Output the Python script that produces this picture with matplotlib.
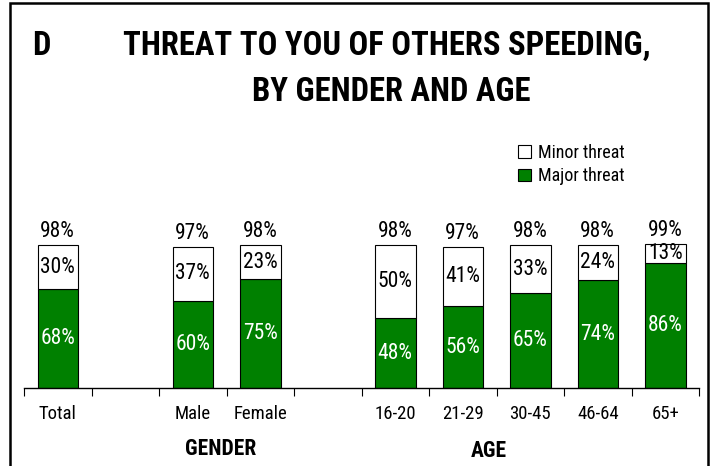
import matplotlib.pyplot as plt
import matplotlib.patches as mpatches

# data (blank slots separate the groups)
categories = ['Total', '', 'Male', 'Female', '', '16-20', '21-29', '30-45', '46-64', '65+']
major = [68, None, 60, 75, None, 48, 56, 65, 74, 86]
minor = [30, None, 37, 23, None, 50, 41, 33, 24, 13]
totals = [98, None, 97, 98, None, 98, 97, 98, 98, 99]
groups = ['GENDER', 'AGE']

green = '#008000'
plt.rcParams['font.family'] = ['Roboto Condensed', 'DejaVu Sans']

fig = plt.figure(figsize=(7.12, 4.66), dpi=100)
ax = fig.add_axes([24 / 712, 1 - 388 / 466, 675 / 712, 268 / 466])

x = [i for i, v in enumerate(major) if v is not None]
maj = [major[i] for i in x]
mino = [minor[i] for i in x]
tot = [totals[i] for i in x]

ax.bar(x, maj, width=0.6, color=green, edgecolor='black', linewidth=0.8, label='Major threat')
ax.bar(x, mino, width=0.6, bottom=maj, color='white', edgecolor='black', linewidth=0.8,
       label='Minor threat')

for xi, a, b, t in zip(x, maj, mino, tot):
    ax.text(xi, a / 2, f'{a}%', ha='center', va='center', color='white', fontsize=15.5)
    ax.text(xi, a + b / 2, f'{b}%', ha='center', va='center', color='black', fontsize=15.5)
    ax.annotate(f'{t}%', (xi, a + b), xytext=(0, 2), textcoords='offset points',
                ha='center', va='bottom', fontsize=15.5)

ax.set_xlim(-0.5, len(categories) - 0.5)
ax.set_ylim(0, 184)
ax.set_xticks(range(len(categories)))
ax.set_xticklabels(categories, fontsize=13.5)
ax.set_xticks([i - 0.5 for i in range(len(categories) + 1)], minor=True)
ax.tick_params(axis='x', which='major', length=0, pad=12)
ax.tick_params(axis='x', which='minor', length=6, width=0.8, direction='out')
ax.set_yticks([])
for s in ['top', 'right', 'left']:
    ax.spines[s].set_visible(False)
ax.spines['bottom'].set_linewidth(1.0)

# group labels under the axis
fig.text(221 / 712, 1 - 449 / 466, groups[0], ha='center', va='center',
         fontsize=15.5, fontweight='bold')
fig.text(489 / 712, 1 - 451 / 466, groups[1], ha='center', va='center',
         fontsize=15.5, fontweight='bold')

handles, labels = ax.get_legend_handles_labels()
ax.legend(handles[::-1], labels[::-1], loc='upper left', bbox_to_anchor=(518 / 712, 1 - 144 / 466),
          bbox_transform=fig.transFigure, frameon=False, fontsize=13,
          handlelength=0.7, handleheight=0.7, handletextpad=0.4, labelspacing=0.3,
          borderaxespad=0, borderpad=0)

# title
fig.text(32 / 712, 1 - 46 / 466, 'D', ha='left', va='center', fontsize=23.5, fontweight='bold')
fig.text(387 / 712, 1 - 46 / 466, 'THREAT TO YOU OF OTHERS SPEEDING,', ha='center', va='center',
         fontsize=23.5, fontweight='bold')
fig.text(391 / 712, 1 - 92 / 466, 'BY GENDER AND AGE', ha='center', va='center',
         fontsize=23.5, fontweight='bold')

# outer frame
fig.patches.append(mpatches.Rectangle((10 / 712, -0.1), 698 / 712, 1.1 - 3 / 466,
                                      transform=fig.transFigure, fill=False,
                                      edgecolor='black', linewidth=1.8))

fig.savefig('out.png', dpi=100)
